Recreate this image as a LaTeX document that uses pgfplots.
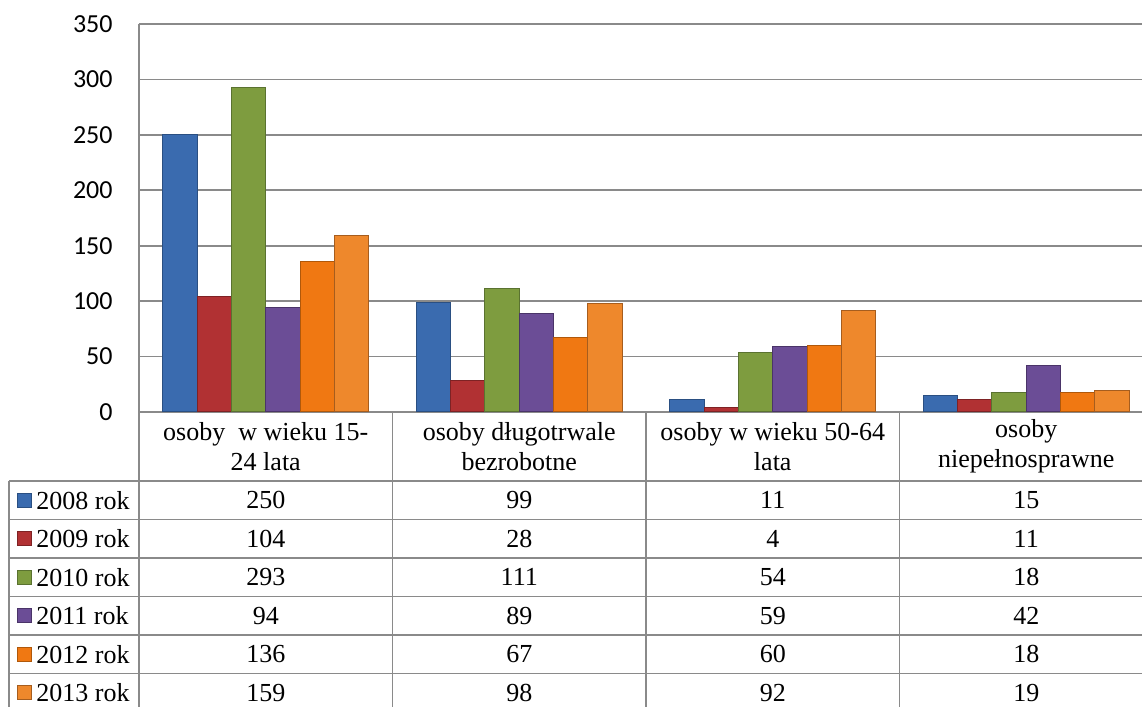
\documentclass[border=0pt]{standalone}
\usepackage{fontspec}
\setmainfont{Liberation Serif}
\newfontfamily\calib{Carlito}
\usepackage{pgfplots}
\usepackage{pgfplotstable}
\pgfplotsset{compat=1.18}
\definecolor{gridgray}{HTML}{8A8A8A}
\definecolor{c1}{HTML}{3A6BAF}\definecolor{c1d}{HTML}{2A4F82}
\definecolor{c2}{HTML}{B13133}\definecolor{c2d}{HTML}{7E2224}
\definecolor{c3}{HTML}{7E9C3F}\definecolor{c3d}{HTML}{5A7230}
\definecolor{c4}{HTML}{6B4D96}\definecolor{c4d}{HTML}{4A3468}
\definecolor{c5}{HTML}{F07812}\definecolor{c5d}{HTML}{B0580A}
\definecolor{c6}{HTML}{EE882C}\definecolor{c6d}{HTML}{A65D1E}
\pgfplotstableread{
x y2008 y2009 y2010 y2011 y2012 y2013
0 250 104 293 94 136 159
1 99 28 111 89 67 98
2 11 4 54 59 60 92
3 15 11 18 42 18 19
}\data
\pgfplotsset{bev/.style={fill=#1, draw=#1d, line width=0.5pt}}
\begin{document}
\begin{tikzpicture}[x=0.5pt,y=0.5pt]
\useasboundingbox (0,0) rectangle (1142,707);
\begin{axis}[
  at={(69.5pt,147.5pt)}, anchor=south west,
  scale only axis, width=507pt, height=194pt,
  xmin=-0.5, xmax=3.5, ymin=0, ymax=350,
  ytick={0,50,...,350}, xtick=\empty,
  ymajorgrids, grid style={draw=gridgray, line width=0.85pt},
  axis lines*=left, axis line style={draw=gridgray, line width=0.85pt},
  major tick length=0pt,
  yticklabel style={font=\calib\fontsize{13}{15}\selectfont, inner sep=0pt, text=black},
  yticklabel shift=13pt,
  /pgf/number format/assume math mode=true,
  ybar=0pt, bar width=17.15pt,
  clip=false,
]
\addplot[bev=c1] table[x=x,y=y2008]{\data};
\addplot[bev=c2] table[x=x,y=y2009]{\data};
\addplot[bev=c3] table[x=x,y=y2010]{\data};
\addplot[bev=c4] table[x=x,y=y2011]{\data};
\addplot[bev=c5] table[x=x,y=y2012]{\data};
\addplot[bev=c6] table[x=x,y=y2013]{\data};
\end{axis}
% data table grid
\begin{scope}[draw=gridgray, line width=0.85pt]
  \foreach \yy in {226,187.5,149,110.5,72,33.5} \draw (9,\yy) -- (1160,\yy);
  \draw (9,226) -- (9,-10);
  \foreach \xx in {139,392.5,646,899.5} \draw (\xx,295) -- (\xx,-10);
\end{scope}
% category labels
\begin{scope}[every node/.style={align=center, font=\fontsize{13}{15}\selectfont, inner sep=0pt}]
  \node at (265.75,260.5) {osoby~ w wieku 15-\\24 lata};
  \node at (519.25,260.5) {osoby długotrwale\\bezrobotne};
  \node at (772.75,260.5) {osoby w wieku 50-64\\lata};
  \node at (1026.25,260.5) {osoby\\niepełnosprawne};
\end{scope}
% row labels with legend keys
\foreach \j/\nm/\cc in {0/2008/c1,1/2009/c2,2/2010/c3,3/2011/c4,4/2012/c5,5/2013/c6}{
  \pgfmathsetmacro{\ry}{206.75-38.5*\j}
  \filldraw[fill=\cc, draw=\cc d, line width=0.4pt] (17.5,\ry-7) rectangle (31.5,\ry+7);
  \node[anchor=west, inner sep=0pt, font=\fontsize{13}{15}\selectfont] at (36,\ry) {\nm\ rok};
}
% table values
\foreach \j/\col in {0/y2008,1/y2009,2/y2010,3/y2011,4/y2012,5/y2013}{
  \foreach \i in {0,1,2,3}{
    \pgfplotstablegetelem{\i}{\col}\of\data
    \pgfmathsetmacro{\rx}{265.75+253.5*\i}
    \pgfmathsetmacro{\ry}{206.75-38.5*\j}
    \node[inner sep=0pt, font=\fontsize{13}{15}\selectfont] at (\rx,\ry) {\pgfplotsretval};
  }
}
\end{tikzpicture}
\end{document}
